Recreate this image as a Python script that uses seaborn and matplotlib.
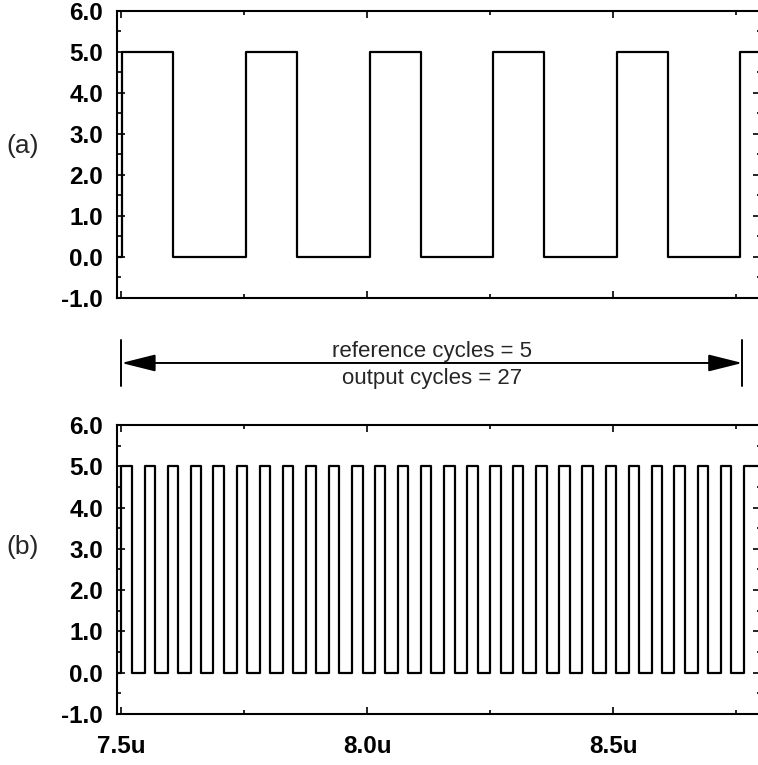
import numpy as np
import pandas as pd
import matplotlib
matplotlib.use("Agg")
import matplotlib.pyplot as plt
from matplotlib.ticker import MultipleLocator, FixedLocator
import seaborn as sns

# signal levels (V)
low_level = 0.0
high_level = 5.0

# (a) reference clock: edge times (in us)
ref_rise = [7.502, 7.754, 8.005, 8.256, 8.507, 8.758]
ref_fall = [7.605, 7.856, 8.108, 8.359, 8.611]

# (b) output clock: edge times (in us)
out_rise = [7.500, 7.547, 7.594, 7.641, 7.687, 7.734, 7.781, 7.828, 7.875, 7.922,
            7.969, 8.015, 8.062, 8.109, 8.156, 8.203, 8.250, 8.296, 8.343, 8.390,
            8.437, 8.484, 8.531, 8.578, 8.624, 8.671, 8.718, 8.765]
out_fall = [7.521, 7.568, 7.615, 7.662, 7.708, 7.755, 7.802, 7.849, 7.896, 7.943,
            7.990, 8.036, 8.083, 8.130, 8.177, 8.224, 8.271, 8.317, 8.364, 8.411,
            8.458, 8.505, 8.552, 8.599, 8.645, 8.692, 8.739]

# axis stuff
x_range = (7.491, 8.80)
y_range = (-1.0, 6.0)
xtick_values = [7.5, 8.0, 8.5]
xtick_labels = ["7.5u", "8.0u", "8.5u"]
ytick_values = [-1.0, 0.0, 1.0, 2.0, 3.0, 4.0, 5.0, 6.0]
ytick_labels = ["-1.0", "0.0", "1.0", "2.0", "3.0", "4.0", "5.0", "6.0"]
panel_labels = ["(a)", "(b)"]

# the span marked between the two plots
span_start = 7.5
span_end = 8.762
ref_text = "reference cycles = 5"
out_text = "output cycles = 27"


def square_wave(rises, falls, t0, t1):
    # turn edge times into a step trace
    t = [t0]
    v = [low_level]
    for i, r in enumerate(rises):
        t += [r, r]
        v += [low_level, high_level]
        if i < len(falls):
            t += [falls[i], falls[i]]
            v += [high_level, low_level]
    t.append(t1)
    v.append(v[-1])
    return pd.DataFrame({"t": t, "v": v})


sns.set_theme(style="ticks")
plt.rcParams['font.family'] = ['Liberation Sans', 'DejaVu Sans']

fig = plt.figure(figsize=(7.58, 7.65), dpi=100)
ax_a = fig.add_axes([0.1544, 0.6105, 0.8496, 0.3752])
ax_b = fig.add_axes([0.1544, 0.0667, 0.8496, 0.3778])

wave_a = square_wave(ref_rise, ref_fall, x_range[0], x_range[1])
wave_b = square_wave(out_rise, out_fall, x_range[0], x_range[1])

for ax, df in [(ax_a, wave_a), (ax_b, wave_b)]:
    sns.lineplot(data=df, x="t", y="v", ax=ax, estimator=None, sort=False,
                 color="black", linewidth=1.6)
    ax.set_xlim(*x_range)
    ax.set_ylim(*y_range)
    ax.set_xlabel("")
    ax.set_ylabel("")
    ax.grid(False)
    for s in ax.spines.values():
        s.set_linewidth(1.5)
        s.set_color("black")
    ax.xaxis.set_major_locator(FixedLocator(xtick_values))
    ax.xaxis.set_minor_locator(MultipleLocator(0.25))
    ax.set_yticks(ytick_values)
    ax.set_yticklabels(ytick_labels, fontweight="bold")
    ax.yaxis.set_minor_locator(MultipleLocator(0.5))
    ax.tick_params(axis="both", which="both", direction="in", top=True, right=True,
                   color="black", width=1.2, labelsize=17.5, labelcolor="black")
    ax.tick_params(axis="y", which="major", length=6, pad=10)
    ax.tick_params(axis="y", which="minor", length=3)
    ax.tick_params(axis="x", which="major", length=5, pad=15)
    ax.tick_params(axis="x", which="minor", length=3)

ax_a.set_xticklabels([])
ax_b.set_xticklabels(xtick_labels, fontweight="bold")

fig.text(0.030, 0.809, panel_labels[0], fontsize=19, ha="center", va="center")
fig.text(0.030, 0.285, panel_labels[1], fontsize=19, ha="center", va="center")

# double arrow between the plots
trans = ax_a.get_xaxis_transform()
ax_a.annotate("", xy=(span_end, -0.2265), xytext=(span_start, -0.2265),
              xycoords=trans, textcoords=trans, annotation_clip=False,
              arrowprops=dict(arrowstyle="<|-|>,head_length=1.4,head_width=0.35",
                              mutation_scale=15, color="black", lw=1.4,
                              shrinkA=0, shrinkB=0))
for xe in [span_start, span_end]:
    ax_a.plot([xe, xe], [-0.146, -0.307], transform=trans, color="black",
              lw=1.4, clip_on=False)
mid = (span_start + span_end) / 2
ax_a.text(mid, -0.185, ref_text, transform=trans, ha="center", va="center", fontsize=16)
ax_a.text(mid, -0.279, out_text, transform=trans, ha="center", va="center", fontsize=16)

fig.savefig("out.png", dpi=100, facecolor="white")
